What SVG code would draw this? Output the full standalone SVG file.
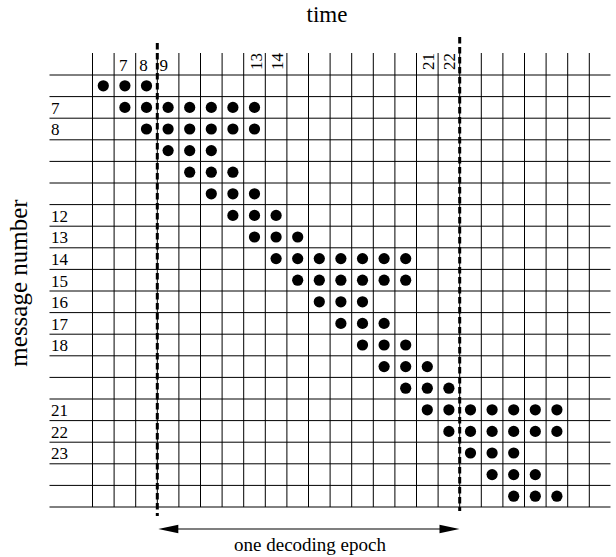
<svg xmlns="http://www.w3.org/2000/svg" width="616" height="557" viewBox="0 0 616 557">
<style>
.g{stroke:#000;stroke-width:1;fill:none}
.dash{stroke:#000;stroke-width:3;stroke-dasharray:6.5 3.5;fill:none}
.t{font-family:"Liberation Serif","Times New Roman",serif;fill:#000}
.n{font-size:17px}
</style>
<defs>
<circle id="d" r="5.6" fill="#000"/>
</defs>
<rect width="616" height="557" fill="#fff"/>
<g id="grid" class="g">
<path d="M92.5 53V507M114.1 53V507M135.7 53V507M157.3 53V507M178.9 53V507M200.5 53V507M222.1 53V507M243.7 53V507M265.3 53V507M286.9 53V507M308.5 53V507M330.1 53V507M351.7 53V507M373.3 53V507M394.9 53V507M416.5 53V507M438.1 53V507M459.7 53V507M481.3 53V507M502.9 53V507M524.5 53V507M546.1 53V507M567.7 53V507M589.3 53V507"/>
<path d="M49.5 75H610.5M49.5 96.6H610.5M49.5 118.2H610.5M49.5 139.8H610.5M49.5 161.4H610.5M49.5 183H610.5M49.5 204.6H610.5M49.5 226.2H610.5M49.5 247.8H610.5M49.5 269.4H610.5M49.5 291H610.5M49.5 312.6H610.5M49.5 334.2H610.5M49.5 355.8H610.5M49.5 377.4H610.5M49.5 399H610.5M49.5 420.6H610.5M49.5 442.2H610.5M49.5 463.8H610.5M49.5 485.4H610.5M49.5 507H610.5"/>
</g>
<g id="dots">
<use href="#d" x="103.3" y="85.8"/><use href="#d" x="124.9" y="85.8"/><use href="#d" x="146.5" y="85.8"/>
<use href="#d" x="124.9" y="107.4"/><use href="#d" x="146.5" y="107.4"/><use href="#d" x="168.1" y="107.4"/><use href="#d" x="189.7" y="107.4"/><use href="#d" x="211.3" y="107.4"/><use href="#d" x="232.9" y="107.4"/><use href="#d" x="254.5" y="107.4"/>
<use href="#d" x="146.5" y="129"/><use href="#d" x="168.1" y="129"/><use href="#d" x="189.7" y="129"/><use href="#d" x="211.3" y="129"/><use href="#d" x="232.9" y="129"/><use href="#d" x="254.5" y="129"/>
<use href="#d" x="168.1" y="150.6"/><use href="#d" x="189.7" y="150.6"/><use href="#d" x="211.3" y="150.6"/>
<use href="#d" x="189.7" y="172.2"/><use href="#d" x="211.3" y="172.2"/><use href="#d" x="232.9" y="172.2"/>
<use href="#d" x="211.3" y="193.8"/><use href="#d" x="232.9" y="193.8"/><use href="#d" x="254.5" y="193.8"/>
<use href="#d" x="232.9" y="215.4"/><use href="#d" x="254.5" y="215.4"/><use href="#d" x="276.1" y="215.4"/>
<use href="#d" x="254.5" y="237"/><use href="#d" x="276.1" y="237"/><use href="#d" x="297.7" y="237"/>
<use href="#d" x="276.1" y="258.6"/><use href="#d" x="297.7" y="258.6"/><use href="#d" x="319.3" y="258.6"/><use href="#d" x="340.9" y="258.6"/><use href="#d" x="362.5" y="258.6"/><use href="#d" x="384.1" y="258.6"/><use href="#d" x="405.7" y="258.6"/>
<use href="#d" x="297.7" y="280.2"/><use href="#d" x="319.3" y="280.2"/><use href="#d" x="340.9" y="280.2"/><use href="#d" x="362.5" y="280.2"/><use href="#d" x="384.1" y="280.2"/><use href="#d" x="405.7" y="280.2"/>
<use href="#d" x="319.3" y="301.8"/><use href="#d" x="340.9" y="301.8"/><use href="#d" x="362.5" y="301.8"/>
<use href="#d" x="340.9" y="323.4"/><use href="#d" x="362.5" y="323.4"/><use href="#d" x="384.1" y="323.4"/>
<use href="#d" x="362.5" y="345"/><use href="#d" x="384.1" y="345"/><use href="#d" x="405.7" y="345"/>
<use href="#d" x="384.1" y="366.6"/><use href="#d" x="405.7" y="366.6"/><use href="#d" x="427.3" y="366.6"/>
<use href="#d" x="405.7" y="388.2"/><use href="#d" x="427.3" y="388.2"/><use href="#d" x="448.9" y="388.2"/>
<use href="#d" x="427.3" y="409.8"/><use href="#d" x="448.9" y="409.8"/><use href="#d" x="470.5" y="409.8"/><use href="#d" x="492.1" y="409.8"/><use href="#d" x="513.7" y="409.8"/><use href="#d" x="535.3" y="409.8"/><use href="#d" x="556.9" y="409.8"/>
<use href="#d" x="448.9" y="431.4"/><use href="#d" x="470.5" y="431.4"/><use href="#d" x="492.1" y="431.4"/><use href="#d" x="513.7" y="431.4"/><use href="#d" x="535.3" y="431.4"/><use href="#d" x="556.9" y="431.4"/>
<use href="#d" x="470.5" y="453"/><use href="#d" x="492.1" y="453"/><use href="#d" x="513.7" y="453"/>
<use href="#d" x="492.1" y="474.6"/><use href="#d" x="513.7" y="474.6"/><use href="#d" x="535.3" y="474.6"/>
<use href="#d" x="513.7" y="496.2"/><use href="#d" x="535.3" y="496.2"/><use href="#d" x="556.9" y="496.2"/>
</g>
<g id="epochs">
<line class="dash" x1="157.3" y1="43" x2="157.3" y2="516"/>
<line class="dash" x1="459.7" y1="37" x2="459.7" y2="511"/>
</g>
<g id="row-labels" class="t n">
<text x="51" y="113.7">7</text>
<text x="51" y="135.3">8</text>
<text x="51" y="221.7">12</text>
<text x="51" y="243.3">13</text>
<text x="51" y="264.9">14</text>
<text x="51" y="286.5">15</text>
<text x="51" y="308.1">16</text>
<text x="51" y="329.7">17</text>
<text x="51" y="351.3">18</text>
<text x="51" y="416.1">21</text>
<text x="51" y="437.7">22</text>
<text x="51" y="459.3">23</text>
</g>
<g id="col-labels" class="t n">
<text x="119" y="70.5">7</text>
<text x="139.3" y="70.5">8</text>
<text x="159.5" y="70.5">9</text>
<text transform="translate(261.5,70) rotate(-90)">13</text>
<text transform="translate(283,70) rotate(-90)">14</text>
<text transform="translate(433.8,70) rotate(-90)">21</text>
<text transform="translate(455.4,70) rotate(-90)">22</text>
</g>
<g id="axis-titles" class="t">
<text x="327" y="21.5" font-size="23" text-anchor="middle">time</text>
<text transform="translate(27,283) rotate(-90)" font-size="25" text-anchor="middle">message number</text>
</g>
<g id="connectors">
<line x1="172" y1="529" x2="446" y2="529" stroke="#000" stroke-width="1.2"/>
<polygon points="158.3,529 178.3,524.8 178.3,533.2" fill="#000"/>
<polygon points="459.5,529 439.5,524.8 439.5,533.2" fill="#000"/>
</g>
<text class="t" x="310" y="551" font-size="19" text-anchor="middle">one decoding epoch</text>
</svg>
